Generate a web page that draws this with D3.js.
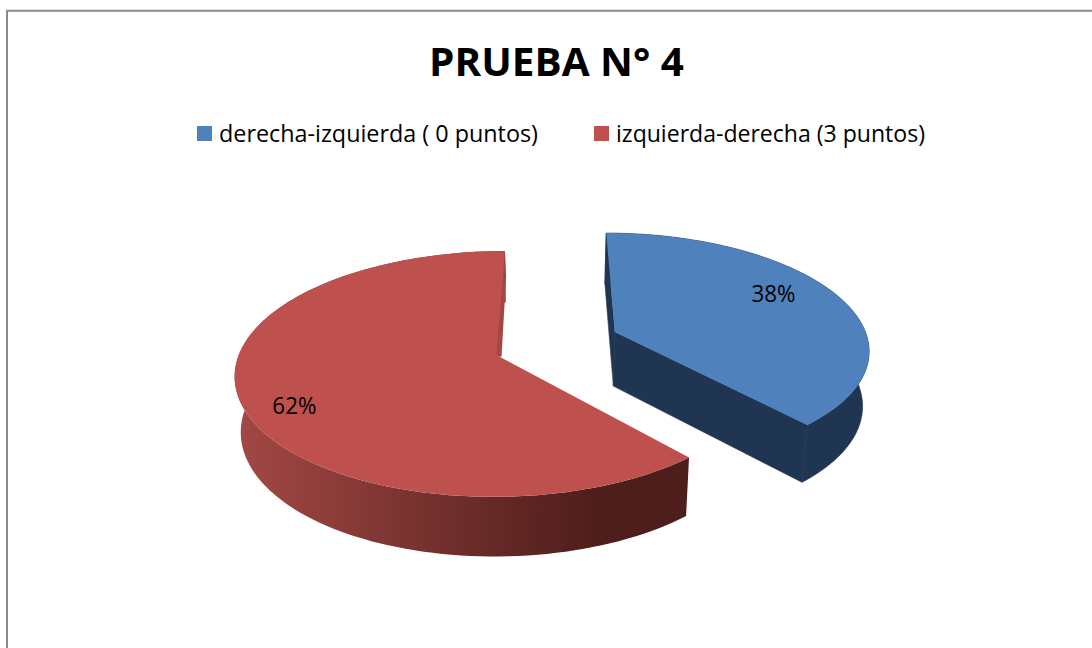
<!DOCTYPE html>
<html><head><meta charset="utf-8">
<script src="https://cdnjs.cloudflare.com/ajax/libs/d3/7.8.5/d3.min.js"></script>
<style>html,body{margin:0;padding:0;background:#fff;overflow:hidden}svg{display:block}text{font-family:"Open Sans",sans-serif;fill:#000}</style>
</head><body><svg id="c" width="1092" height="648"></svg>
<script>
const titleText = "PRUEBA N° 4";
const categories = ["derecha-izquierda ( 0 puntos)", "izquierda-derecha (3 puntos)"];
const counts = [5, 8];
const faceColors = ["#4F81BD", "#BE504D"];

// layout / style (not data)
const W = 1092, H = 648, radii = [258, 262];
const VX = 541, VY = 357, SK = 0.46, PK = 5.27e-4;
const apex = [[76, -56], [-41, 0]];
const labelRadius = [0.71, 0.8], labelDy = [-3, 21];
const legendSwatchX = [197, 594], legendTextX = [219, 616], legendTextW = [319, 309];

const svg = d3.select("#c");
const defs = svg.append("defs");
const grad = defs.append("linearGradient").attr("id", "redWall")
  .attr("gradientUnits", "userSpaceOnUse").attr("x1", 236).attr("x2", 690).attr("y1", 0).attr("y2", 0);
[[0, "#A44844"], [0.6, "#622725"], [0.8, "#4E1E1C"], [1, "#4E1E1C"]].forEach(s =>
  grad.append("stop").attr("offset", s[0]).attr("stop-color", s[1]));

// frame
svg.append("path").attr("d", `M7,${H}V10.7H${W}`).attr("fill", "none").attr("stroke", "#8A8A8A").attr("stroke-width", 2);

// 3D projection of the exploded pie plane
function proj(X, Y, low) {
  const w = 1 - PK * Y;
  let x = X / w, y = SK * Y / w;
  if (low) { x *= 0.98; y += 55 * Math.pow(w, -0.55); }
  return [VX + x, VY + y];
}
const line = d3.line();
const arcs = d3.pie().sort(null).startAngle(0).endAngle(2 * Math.PI)(counts);
function ringPoint(i, a, r, low) {
  return proj(apex[i][0] + r * radii[i] * Math.sin(a), apex[i][1] - r * radii[i] * Math.cos(a), low);
}
function arcPts(i, low) {
  const d = arcs[i];
  return d3.range(0, 121).map(k => ringPoint(i, d.startAngle + (d.endAngle - d.startAngle) * k / 120, 1, low));
}
arcs.forEach((d, i) => {
  const top = arcPts(i, false), low = arcPts(i, true);
  const A = proj(apex[i][0], apex[i][1], false), AL = proj(apex[i][0], apex[i][1], true);
  const g = svg.append("g");
  if (i === 0) {
    // blue walls drawn with a thin stroke of the same colour, so no seams show
    [top.concat(low.slice().reverse()), [A, top[120], low[120], AL], [A, top[0], low[0], AL]].forEach(pts =>
      g.append("path").attr("d", line(pts) + "Z").attr("fill", "#1F3552").attr("stroke", "#1F3552").attr("stroke-width", 0.6));
  } else {
    g.append("path").attr("d", line(top.concat(low.slice().reverse())) + "Z").attr("fill", "url(#redWall)");
  }
  // top face
  g.append("path").attr("d", line([A].concat(top)) + "Z").attr("fill", faceColors[i]);
  if (i === 1) {
    // thin inner wall sliver at the back edge of the red slice
    const mid = [(top[120][0] + low[120][0]) / 2, (top[120][1] + low[120][1]) / 2];
    g.append("path").attr("d", line([top[120], [mid[0] + 0.8, mid[1]], [A[0] + 1.5, A[1]], [A[0] - 3.5, A[1] - 2]]) + "Z").attr("fill", "#A34744");
  }
});

// title
svg.append("text").attr("x", 429).attr("y", 76).attr("textLength", 255).attr("lengthAdjust", "spacingAndGlyphs")
  .attr("font-size", 40).attr("font-weight", 700).text(titleText);

// legend
categories.forEach((c, i) => {
  svg.append("rect").attr("x", legendSwatchX[i]).attr("y", 126).attr("width", 15).attr("height", 15).attr("fill", faceColors[i]);
  svg.append("text").attr("x", legendTextX[i]).attr("y", 142).attr("font-size", 24)
    .attr("textLength", legendTextW[i]).attr("lengthAdjust", "spacingAndGlyphs").text(c);
});

// value labels
const total = d3.sum(counts);
arcs.forEach((d, i) => {
  const p = ringPoint(i, (d.startAngle + d.endAngle) / 2, labelRadius[i], false);
  svg.append("text").attr("x", p[0] - 22).attr("y", p[1] + labelDy[i]).attr("font-size", 24)
    .attr("textLength", 44).attr("lengthAdjust", "spacingAndGlyphs")
    .text(d3.format(".0%")(d.value / total));
});
</script></body></html>
